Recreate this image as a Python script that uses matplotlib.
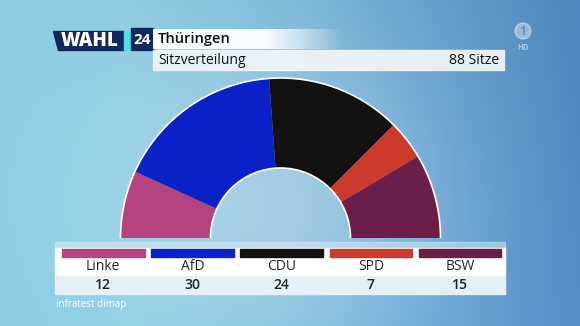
import numpy as np
import matplotlib.pyplot as plt
from matplotlib.patches import Wedge, Arc, Rectangle, Polygon, Circle

plt.rcParams['font.family'] = ['Open Sans', 'DejaVu Sans']

# Sitzverteilung Thüringen
parties = ["Linke", "AfD", "CDU", "SPD", "BSW"]
seats = [12, 30, 24, 7, 15]
colors = ["#b5437e", "#0a22c8", "#121212", "#cc3a2c", "#6b1f48"]
title = "Thüringen"
subtitle = "Sitzverteilung"
total_label = "88 Sitze"
source = "infratest dimap"

W, H = 580, 326
fig = plt.figure(figsize=(W / 100, H / 100), dpi=100)
ax = fig.add_axes([0, 0, 1, 1])
ax.set_xlim(0, W)
ax.set_ylim(H, 0)
ax.axis("off")

# background: cyan on the left, blue on the right, lighter haze in the middle
xs = np.linspace(0, 1, W)
ys = np.linspace(0, 1, H)
X, Y = np.meshgrid(xs, ys)
left = np.array([140, 206, 228]) / 255
right = np.array([82, 142, 202]) / 255
t = np.clip((X - 0.2) / 0.8, 0, 1) ** 1.2
bg = left * (1 - t[..., None]) + right * t[..., None]
haze = np.exp(-(((X - 0.45) / 0.3) ** 2 + ((Y - 0.6) / 0.5) ** 2))
bg = bg * (1 - 0.5 * haze[..., None]) + np.array([0.82, 0.9, 0.95]) * 0.5 * haze[..., None]
bg = bg * (1 - 0.06 * (1 - Y[..., None]) * X[..., None])
ax.imshow(np.clip(bg, 0, 1), extent=[0, W, H, 0], zorder=0, aspect="auto")

# header
navy = "#13295e"
ax.add_patch(Polygon([[53, 31], [124, 31], [124, 50], [58, 50]], closed=True,
                     color=navy, zorder=2))
ax.add_patch(Polygon([[124, 31], [130, 31], [130, 50], [124, 50]], closed=True,
                     color="#4fe0e0", zorder=2))
ax.add_patch(Rectangle((131, 28), 22, 22, color=navy, zorder=2))
ax.text(90, 41, "WAHL", color="white", fontsize=13.5, fontweight="heavy",
        ha="center", va="center", zorder=3)
ax.text(142, 39.5, "24", color="white", fontsize=11, fontweight="bold",
        ha="center", va="center", zorder=3)

# title row fading out to the right
fade = np.ones((1, 220, 4))
a = np.clip((345 - np.linspace(153, 373, 220)) / 80, 0, 1)
fade[0, :, 3] = a * 0.95
ax.imshow(fade, extent=[153, 373, 49, 29], zorder=2, aspect="auto")
ax.text(158, 39, title, color="#111111", fontsize=10.5, fontweight="semibold",
        ha="left", va="center", zorder=3)

ax.add_patch(Rectangle((153, 50), 351, 20, color="#eef4f8", alpha=0.95, zorder=2))
ax.text(158, 60, subtitle, color="#111111", fontsize=10, ha="left", va="center", zorder=3)
ax.text(499, 60, total_label, color="#111111", fontsize=10, ha="right", va="center", zorder=3)

# ARD logo
ax.add_patch(Circle((523, 31), 8, color="white", alpha=0.4, zorder=2))
ax.text(523, 31.5, "1", color="#5a8fc4", fontsize=8.5, fontweight="bold",
        ha="center", va="center", zorder=3)
ax.text(523, 47, "HD", color="white", alpha=0.5, fontsize=5.5, fontweight="bold",
        ha="center", va="center", zorder=3)

# half donut, seats clockwise from the left (y axis points down)
cx, cy, R, r = 280.5, 238, 160, 70
total = sum(seats)
start = 180.0
for n, c in zip(seats, colors):
    end = start + n / total * 180.0
    ax.add_patch(Wedge((cx, cy), R, start, end, width=R - r, color=c, zorder=4,
                       linewidth=0))
    start = end
ax.add_patch(Arc((cx, cy), 2 * R, 2 * R, theta1=180, theta2=360, color="white",
                 linewidth=1.2, zorder=5))
ax.add_patch(Arc((cx, cy), 2 * r, 2 * r, theta1=180, theta2=360, color="white",
                 linewidth=1.2, zorder=5))

# legend table
ax.add_patch(Rectangle((55, 242), 450, 6, color="#d8ecf5", alpha=0.5, zorder=2))
ax.add_patch(Rectangle((55, 248), 450, 28, color="white", zorder=2))
ax.add_patch(Rectangle((55, 276), 450, 18, color="#e4eff6", zorder=2))
x0, pitch, bw = 62, 89.2, 82.5
for i, (p, n, c) in enumerate(zip(parties, seats, colors)):
    x = x0 + i * pitch
    ax.add_patch(Rectangle((x, 249), bw, 8, color=c, zorder=3))
    ax.text(x + bw / 2, 267, p, color="#222222", fontsize=10, ha="center",
            va="center", zorder=3)
    ax.text(x + bw / 2, 285, str(n), color="#222222", fontsize=10,
            fontweight="semibold", ha="center", va="center", zorder=3)

ax.text(56, 304, source, color="white", fontsize=7, ha="left", va="center", zorder=3)

fig.savefig("out.png", dpi=100)
